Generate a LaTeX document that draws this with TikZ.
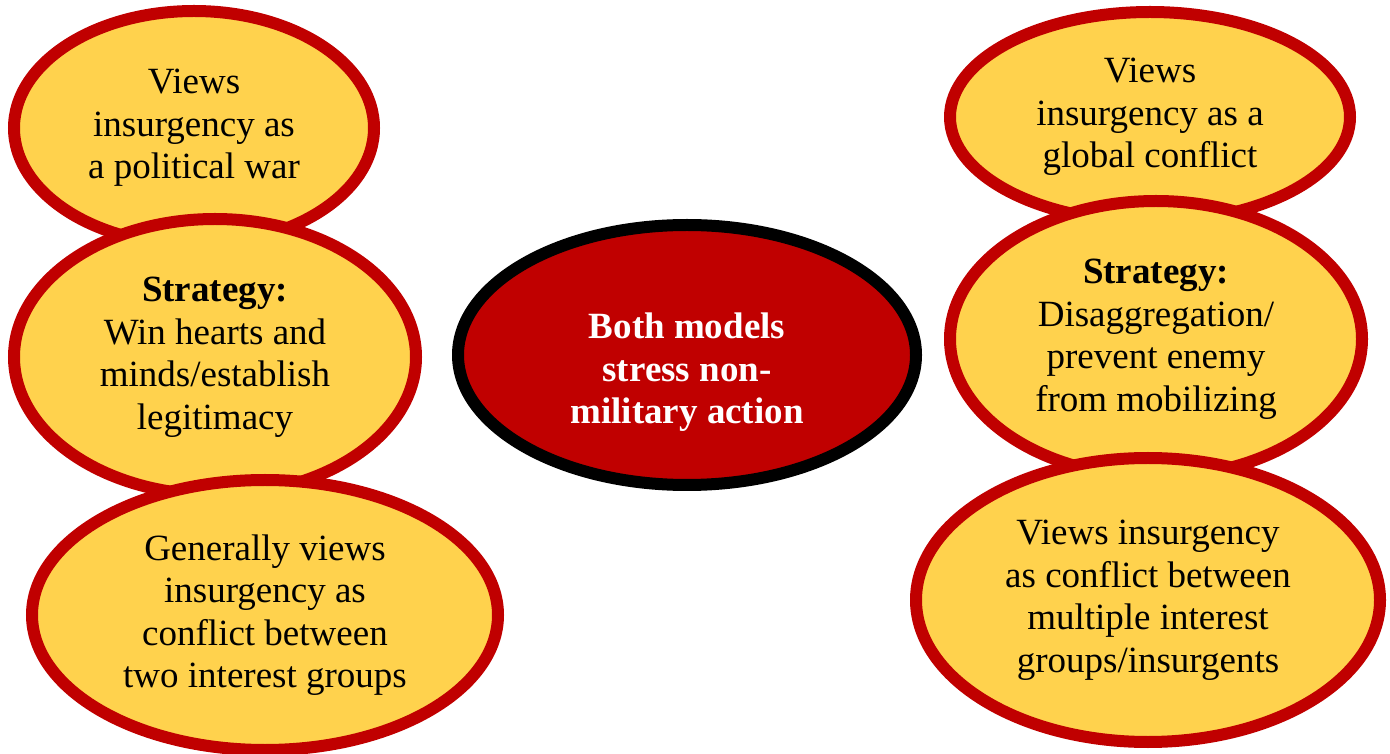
\documentclass[tikz,border=0pt]{standalone}
\usepackage{fontspec}
\setmainfont{Liberation Serif}
\usetikzlibrary{shapes.geometric}
\definecolor{bubbleRed}{RGB}{192,0,0}
\definecolor{bubbleYellow}{RGB}{255,210,77}

\begin{document}
\begin{tikzpicture}[x=1pt, y=1pt,
  bubble/.style = {ellipse, draw=bubbleRed, fill=bubbleYellow,
    line width=12pt, inner sep=0pt, align=center,
    font=\fontsize{37}{42.5}\selectfont},
  core/.style   = {bubble, draw=black, fill=bubbleRed, text=white,
    font=\fontsize{37}{42.5}\selectfont\bfseries}
  ]
  \useasboundingbox (0,0) rectangle (1390,753);
  % left model
  \node[bubble, minimum width=360pt, minimum height=234pt] (leftView) at (194,625)
    {Views\\ insurgency as\\ a political war};
  \node[bubble, minimum width=402pt, minimum height=276pt] (leftStrategy) at (215,396)
    {\textbf{Strategy:}\\ Win hearts and\\ minds/establish\\ legitimacy};
  \node[bubble, minimum width=466pt, minimum height=270pt] (leftGroups) at (265,138)
    {Generally views\\ insurgency as\\ conflict between\\ two interest groups};
  % right model
  \node[bubble, minimum width=400pt, minimum height=210pt] (rightView) at (1150,636)
    {Views\\ insurgency as a\\ global conflict};
  \node[bubble, minimum width=412pt, minimum height=276pt] (rightStrategy) at (1156,414)
    {\textbf{Strategy:}\\ Disaggregation/\\ prevent enemy\\ from mobilizing};
  \node[bubble, minimum width=464pt, minimum height=284pt] (rightGroups) at (1148,153)
    {Views insurgency\\ as conflict between\\ multiple interest\\ groups/insurgents};
  % shared point
  \node[core, minimum width=458pt, minimum height=260pt] (shared) at (687,398)
    {\rule{0pt}{60pt}Both models\\ stress non-\\ military action};
\end{tikzpicture}
\end{document}
